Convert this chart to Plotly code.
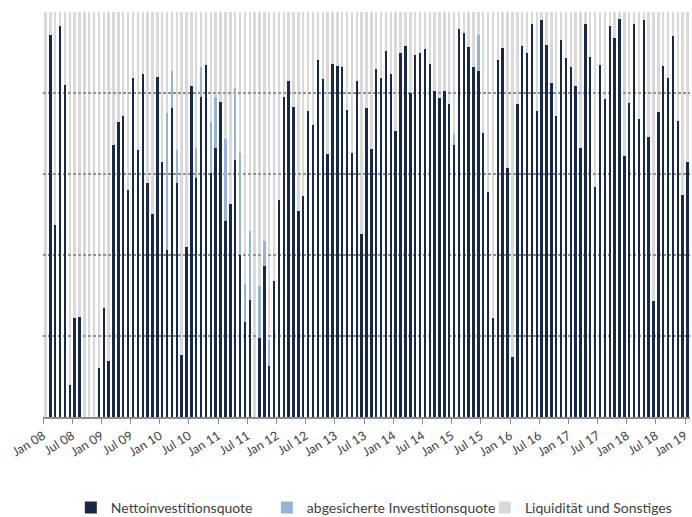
import plotly.graph_objects as go

# Month labels for axis ticks (every 6 months)
tick_labels = ["Jan 08", "Jul 08", "Jan 09", "Jul 09", "Jan 10", "Jul 10", "Jan 11", "Jul 11",
               "Jan 12", "Jul 12", "Jan 13", "Jul 13", "Jan 14", "Jul 14", "Jan 15", "Jul 15",
               "Jan 16", "Jul 16", "Jan 17", "Jul 17", "Jan 18", "Jul 18", "Jan 19"]

# Nettoinvestitionsquote, monthly Jan 08 .. Jan 19 (%)
netto = [
    0, 94.3, 47.4, 96.5, 81.9, 7.9, 24.5, 24.8, 0, 0, 0, 12.2,          # 2008
    27.0, 13.8, 67.2, 72.8, 74.4, 56.0, 83.7, 65.9, 84.8, 57.9, 50.1, 84.0,  # 2009
    62.9, 41.2, 76.4, 57.7, 15.3, 41.9, 81.8, 59.1, 78.9, 86.9, 60.2, 66.5,  # 2010
    77.8, 48.4, 52.6, 63.5, 40.0, 23.4, 28.9, 0, 19.4, 37.3, 12.6, 33.6,    # 2011
    53.6, 78.9, 83.0, 76.5, 50.9, 54.6, 75.5, 72.1, 88.1, 83.5, 64.9, 87.1,  # 2012
    86.7, 86.4, 75.9, 65.3, 83.0, 45.3, 76.2, 66.2, 85.9, 83.8, 90.4, 84.7,  # 2013
    70.7, 89.8, 91.6, 79.9, 89.4, 89.8, 90.9, 87.1, 80.5, 78.8, 80.5, 77.2,  # 2014
    67.2, 95.7, 94.9, 91.4, 86.5, 85.4, 70.2, 55.6, 24.5, 88.1, 91.1, 61.6,  # 2015
    14.9, 77.2, 91.5, 90.0, 97.0, 75.6, 98.0, 91.9, 82.5, 74.3, 93.1, 88.7,  # 2016
    86.5, 81.8, 66.3, 97.0, 88.9, 56.8, 87.0, 78.5, 96.5, 93.7, 98.3, 64.4,  # 2017
    77.5, 97.0, 73.7, 98.1, 69.2, 28.6, 75.2, 86.7, 83.6, 94.1, 73.1, 54.7,  # 2018
    62.9,                                                                    # Jan 19
]

# abgesicherte Investitionsquote (%)
abgesichert = [
    0, 0, 0, 0, 0, 0, 0, 0, 0, 0, 0, 0,
    0, 0, 0, 0, 0, 0, 0, 0, 0, 0, 0, 0,
    0, 33.8, 9.1, 8.2, 0, 0, 0, 7.2, 7.5, 0, 12.7, 12.5,
    0, 20.2, 0, 17.8, 25.1, 9.4, 17.0, 0, 12.9, 6.2, 6.3, 0,
    0, 0, 0, 0, 0, 0, 0, 0, 0, 0, 0, 0,
    0, 0, 0, 0, 0, 0, 0, 0, 0, 0, 0, 0,
    0, 0, 0, 0, 0, 0, 0, 0, 0, 0, 0, 0,
    2.7, 0, 0, 0, 0, 8.9, 0, 0, 0, 0, 0, 0,
    0, 0, 0, 0, 0, 0, 0, 0, 0, 0, 0, 0,
    0, 0, 0, 0, 0, 0, 0, 0, 0, 0, 0, 0,
    0, 0, 0, 0, 0, 0, 0, 0, 0, 0, 0, 0,
    0,
]

# Liquidität und Sonstiges = remainder to 100 %
liquiditaet = [round(100 - a - b, 1) for a, b in zip(netto, abgesichert)]

n = len(netto)
x_pos = [i + 0.5 for i in range(n)]
tick_vals = [6 * k for k in range(len(tick_labels))]

NAVY = "#17294a"
LIGHTBLUE = "#95b3d7"
GREY = "rgba(166,166,166,0.43)"   # appears as #d9d9d9 on white; lets gridlines show through
BAR_W = 0.5

fig = go.Figure()
fig.add_bar(x=x_pos, y=netto, name="Nettoinvestitionsquote", marker_color=NAVY,
            marker_line_width=0, width=BAR_W, legend="legend")
fig.add_bar(x=x_pos, y=abgesichert, name="abgesicherte Investitionsquote",
            marker_color=LIGHTBLUE, marker_line_width=0, width=BAR_W, legend="legend2")
fig.add_bar(x=x_pos, y=liquiditaet, name="Liquidität und Sonstiges", marker_color=GREY,
            marker_line_width=0, width=BAR_W, legend="legend3")

legend_common = dict(orientation="h", xanchor="left", y=-0.185, yanchor="top",
                     font=dict(size=14, color="#404040"), itemclick=False,
                     bgcolor="rgba(0,0,0,0)")

fig.update_layout(
    barmode="stack",
    width=692, height=517,
    margin=dict(l=43, r=2, t=12, b=100, autoexpand=False),
    paper_bgcolor="white", plot_bgcolor="white",
    font=dict(family="Lato, Open Sans, sans-serif", color="#404040"),
    showlegend=True,
    legend=dict(x=0.043, **legend_common),
    legend2=dict(x=0.346, **legend_common),
    legend3=dict(x=0.683, **legend_common),
)

fig.update_xaxes(
    range=[0, n], tickmode="array", tickvals=tick_vals, ticktext=tick_labels,
    tickangle=-32, ticks="outside", ticklen=5, tickcolor="#8c8c8c", tickwidth=1,
    showline=True, linecolor="#8c8c8c", linewidth=1.5, showgrid=False, zeroline=False,
    tickfont=dict(size=12.5, color="#404040"), automargin=False,
)
fig.update_yaxes(
    range=[0, 100], dtick=20, showticklabels=False, showgrid=True,
    gridcolor="#8c8c8c", griddash="3px,2px", gridwidth=1.5, zeroline=False, showline=False,
    automargin=False,
)

fig.write_html("out.html", config={"displayModeBar": False},
               post_script="document.body.style.margin='0';document.body.style.padding='0';")
